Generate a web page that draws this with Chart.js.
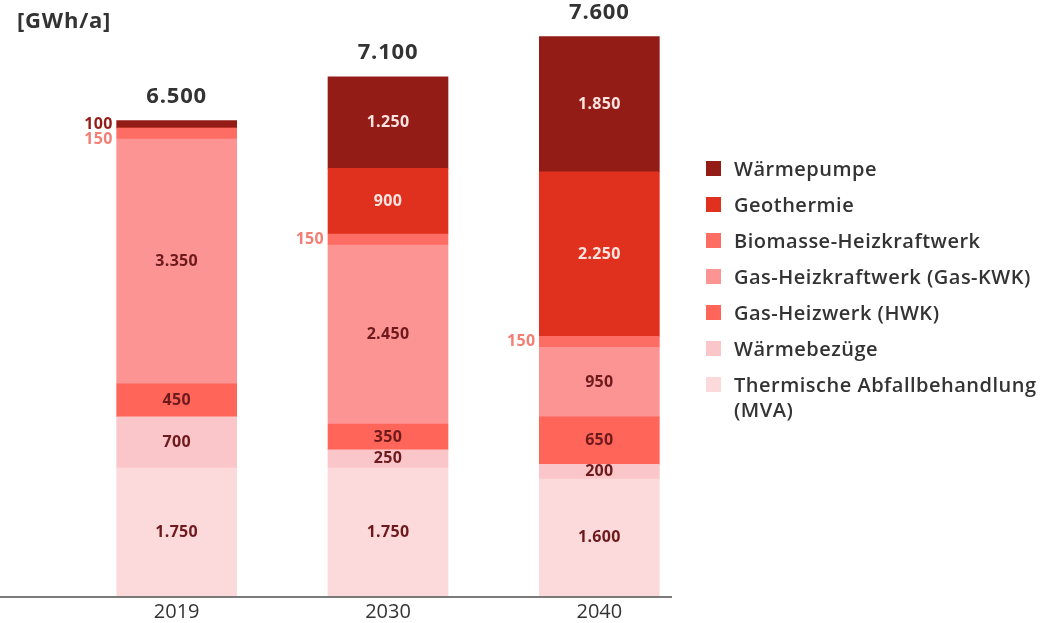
<!DOCTYPE html>
<html>
<head>
<meta charset="utf-8">
<script src="https://cdn.jsdelivr.net/npm/chart.js@4"></script>
<style>
  html, body { margin: 0; padding: 0; background: #fff; }
  #wrap { position: relative; width: 1058px; height: 623px; font-family: 'Open Sans', sans-serif; }
  #unit { position: absolute; left: 17px; top: 4px; font-size: 22px; font-weight: 700; color: #333; letter-spacing: 0.8px; }
  #legend { position: absolute; left: 706px; top: 156px; color: #333; font-size: 20px; font-weight: 600; letter-spacing: 0.5px; }
  .item { display: flex; align-items: flex-start; margin-bottom: 11px; line-height: 25px; }
  .box { width: 15px; height: 15px; margin: 5px 13px 0 0; flex: none; }
</style>
</head>
<body>
<div id="wrap">
  <canvas id="chart" width="1058" height="623"></canvas>
  <div id="unit">[GWh/a]</div>
  <div id="legend"></div>
</div>
<script>
const years = ['2019', '2030', '2040'];

// stacking order, bottom to top
const names = [
  'Thermische Abfallbehandlung (MVA)',
  'Wärmebezüge',
  'Gas-Heizwerk (HWK)',
  'Gas-Heizkraftwerk (Gas-KWK)',
  'Biomasse-Heizkraftwerk',
  'Geothermie',
  'Wärmepumpe'
];
const legendNames = [
  ['Thermische Abfallbehandlung', '(MVA)'],
  ['Wärmebezüge'],
  ['Gas-Heizwerk (HWK)'],
  ['Gas-Heizkraftwerk (Gas-KWK)'],
  ['Biomasse-Heizkraftwerk'],
  ['Geothermie'],
  ['Wärmepumpe']
];
const mva        = [1750, 1750, 1600];
const bezuege    = [700, 250, 200];
const hwk        = [450, 350, 650];
const gasKwk     = [3350, 2450, 950];
const biomasse   = [150, 150, 150];
const geothermie = [0, 900, 2250];
const pumpe      = [100, 1250, 1850];
const totals     = [6500, 7100, 7600];

const series = [mva, bezuege, hwk, gasKwk, biomasse, geothermie, pumpe];
const colors = ['#fcdadc', '#fbc6c9', '#ff6559', '#fd9494', '#fd6d63', '#e0301e', '#931c17'];
const outsideColors = ['#fcdadc', '#fbc6c9', '#ff6559', '#fd9494', '#f47e74', '#e0301e', '#931c17'];
const darkSet = [false, false, false, false, false, true, true];

const fmt = v => v.toLocaleString('de-DE');

// HTML legend, top of stack first
const leg = document.getElementById('legend');
for (let k = names.length - 1; k >= 0; k--) {
  const d = document.createElement('div');
  d.className = 'item';
  d.innerHTML = '<span class="box" style="background:' + colors[k] + '"></span><span>' + legendNames[k].join('<br>') + '</span>';
  leg.appendChild(d);
}

const labelPlugin = {
  id: 'segLabels',
  afterDatasetsDraw(chart) {
    const ctx = chart.ctx;
    ctx.save();
    ctx.textBaseline = 'middle';
    for (let i = 0; i < years.length; i++) {
      let lastOut = -Infinity;
      let top = Infinity, cx = 0;
      for (let k = series.length - 1; k >= 0; k--) {
        const v = series[k][i];
        if (!v) continue;
        const el = chart.getDatasetMeta(k).data[i];
        top = Math.min(top, el.y);
        cx = el.x;
        const mid = (el.y + el.base) / 2;
        ctx.font = '700 16px "Open Sans", sans-serif';
        ctx.letterSpacing = '0.3px';
        if (v <= 150) {
          const y = Math.max(mid, lastOut + 15);
          lastOut = y;
          ctx.textAlign = 'right';
          ctx.fillStyle = outsideColors[k];
          ctx.fillText(fmt(v), el.x - el.width / 2 - 4, y);
        } else {
          ctx.textAlign = 'center';
          ctx.fillStyle = darkSet[k] ? '#fde3e0' : '#6d1a1d';
          ctx.fillText(fmt(v), el.x, mid);
        }
      }
      ctx.font = '700 22px "Open Sans", sans-serif';
      ctx.letterSpacing = '0.8px';
      ctx.textAlign = 'center';
      ctx.fillStyle = '#333';
      ctx.fillText(fmt(totals[i]), cx, top - 24);
    }
    // baseline
    const b = chart.scales.y.getPixelForValue(0);
    ctx.strokeStyle = '#7a7a7a';
    ctx.lineWidth = 2;
    ctx.beginPath();
    ctx.moveTo(0, b + 1);
    ctx.lineTo(672, b + 1);
    ctx.stroke();
    ctx.restore();
  }
};

new Chart(document.getElementById('chart'), {
  type: 'bar',
  data: {
    labels: years,
    datasets: series.map((s, k) => ({
      label: names[k],
      data: s,
      backgroundColor: colors[k],
      borderWidth: 0
    }))
  },
  options: {
    responsive: false,
    animation: false,
    layout: { padding: { left: 71, right: 353, top: 11, bottom: -5 } },
    barThickness: 120,
    plugins: { legend: { display: false }, tooltip: { enabled: false } },
    scales: {
      x: {
        stacked: true,
        grid: { display: false, drawTicks: false },
        border: { display: false },
        ticks: { color: '#333', font: { family: '"Open Sans", sans-serif', size: 20, weight: 500 }, padding: 4 }
      },
      y: { stacked: true, display: false, min: 0, max: 8000 }
    }
  },
  plugins: [labelPlugin]
});
</script>
</body>
</html>
